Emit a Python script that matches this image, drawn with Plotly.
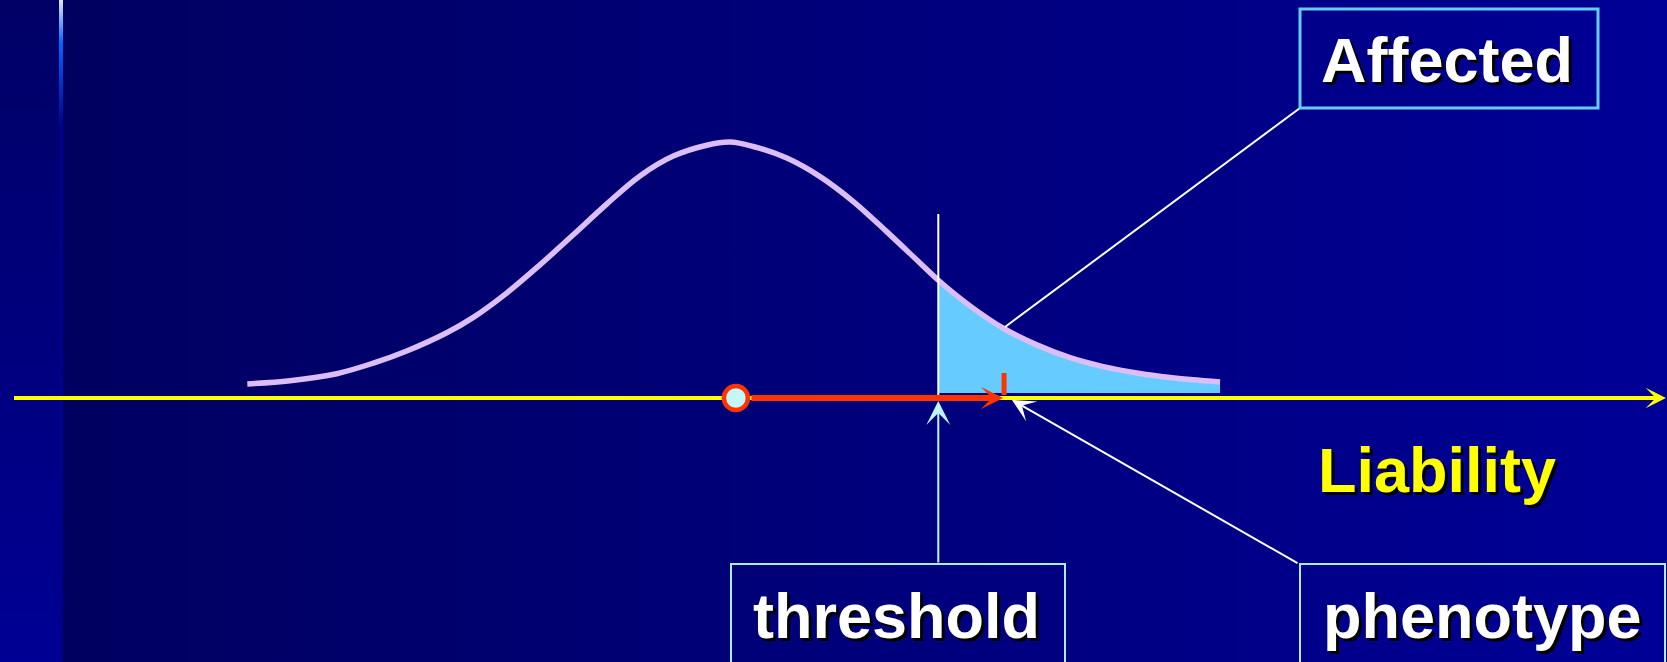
import base64
import plotly.graph_objects as go

W, H = 1667, 662

# liability (SD units) and density
liability = [-2.949, -2.689, -2.404, -2.181, -1.977, -1.733, -1.571, -1.368,
             -1.165, -0.962, -0.758, -0.555, -0.352, -0.148, -0.006, 0.136,
             0.340, 0.543, 0.746, 0.949, 1.152, 1.264, 1.457, 1.660, 1.864,
             2.067, 2.270, 2.474, 2.677, 2.982]
density = [0.022, 0.027, 0.038, 0.0545, 0.0735, 0.102, 0.126, 0.164,
           0.208, 0.255, 0.303, 0.347, 0.378, 0.395, 0.400, 0.393,
           0.375, 0.346, 0.307, 0.260, 0.211, 0.184, 0.144, 0.109, 0.083,
           0.063, 0.049, 0.039, 0.032, 0.025]

mean_liability = 0.03
threshold = 1.264
phenotype = 1.665
labels = ["Affected", "threshold", "phenotype", "Liability"]

# axis ranges so that the canvas maps onto liability / density units
X0, X1 = -4.457, 5.707
Y0, Y1 = -0.4125, 0.6219


def px(x):
    return x / W


def py(y):
    return 1 - y / H


def dx(x):
    return X0 + (X1 - X0) * x / W


def dy(y):
    return Y1 - (Y1 - Y0) * y / H


bg_svg = f"""<svg xmlns='http://www.w3.org/2000/svg' width='{W}' height='{H}' viewBox='0 0 {W} {H}' preserveAspectRatio='none'>
<defs>
<linearGradient id='m' x1='0' x2='1' y1='0' y2='0'>
<stop offset='0' stop-color='#00005E'/><stop offset='1' stop-color='#000096'/></linearGradient>
<linearGradient id='s' x1='0' x2='0' y1='0' y2='1'>
<stop offset='0' stop-color='#000066'/><stop offset='1' stop-color='#000094'/></linearGradient>
<linearGradient id='b' x1='0' x2='0' y1='0' y2='1'>
<stop offset='0' stop-color='#E6E6E6'/><stop offset='0.065' stop-color='#0066FF'/>
<stop offset='0.19' stop-color='#00008C'/><stop offset='1' stop-color='#00008C'/></linearGradient>
</defs>
<rect x='0' y='0' width='{W}' height='{H}' fill='url(#m)'/>
<rect x='0' y='0' width='59' height='{H}' fill='url(#s)'/>
<rect x='59' y='0' width='4' height='{H}' fill='url(#b)'/>
</svg>"""
bg_src = "data:image/svg+xml;base64," + base64.b64encode(bg_svg.encode()).decode()

fig = go.Figure()

# shaded "affected" tail beyond the threshold
tail_x = [x for x in liability if x >= threshold]
tail_y = [d for x, d in zip(liability, density) if x >= threshold]
base = 0.008
fig.add_trace(go.Scatter(
    x=tail_x + [tail_x[-1], tail_x[0], tail_x[0]],
    y=tail_y + [base, base, tail_y[0]],
    fill="toself", fillcolor="#66CCFF", mode="lines",
    line=dict(width=0, color="#66CCFF"), hoverinfo="skip"))

# liability distribution
fig.add_trace(go.Scatter(
    x=liability, y=density, mode="lines",
    line=dict(color="#DDBDF5", width=5.5, shape="spline", smoothing=1),
    hoverinfo="skip"))

# liability axis line
fig.add_trace(go.Scatter(
    x=[dx(14), dx(1650)], y=[0, 0], mode="lines",
    line=dict(color="#FFFF00", width=4), hoverinfo="skip"))

# threshold line above the axis
fig.add_trace(go.Scatter(
    x=[threshold, threshold], y=[dy(214), 0], mode="lines",
    line=dict(color="white", width=2), hoverinfo="skip"))

# phenotype tick
fig.add_trace(go.Scatter(
    x=[phenotype, phenotype], y=[dy(373), dy(395)], mode="lines",
    line=dict(color="#FF3300", width=5), hoverinfo="skip"))

annotations = [
    # axis arrowhead
    dict(x=dx(1666), y=0, ax=dx(1600), ay=0, xref="x", yref="y",
         axref="x", ayref="y", text="", showarrow=True, arrowhead=3,
         arrowsize=0.85, arrowwidth=4, arrowcolor="#FFFF00", standoff=0),
    # mean -> phenotype arrow
    dict(x=phenotype - 0.006, y=0, ax=mean_liability, ay=0, xref="x", yref="y",
         axref="x", ayref="y", text="", showarrow=True, arrowhead=3,
         arrowsize=0.62, arrowwidth=6, arrowcolor="#FF3300",
         startstandoff=14, standoff=0),
    # threshold pointer from box
    dict(x=threshold, y=dy(401), ax=threshold, ay=dy(564), xref="x", yref="y",
         axref="x", ayref="y", text="", showarrow=True, arrowhead=3,
         arrowsize=2, arrowwidth=2, arrowcolor="#BFF4FF", standoff=0),
    # phenotype pointer from box
    dict(x=dx(1012), y=dy(400), ax=dx(1299), ay=dy(564), xref="x", yref="y",
         axref="x", ayref="y", text="", showarrow=True, arrowhead=3,
         arrowsize=1.9, arrowwidth=2, arrowcolor="white", standoff=0),
]

label_font = dict(family="Liberation Sans, Arial, sans-serif", size=63,
                  color="white", weight="bold", shadow="3px 3px 0px #000000")
label_pos = [(1447, 60), (897, 616), (1482, 616), (1437, 470)]
for text, (lx, ly) in zip(labels, label_pos):
    font = dict(label_font)
    if text == "Liability":
        font["color"] = "#FFFF00"
    annotations.append(dict(x=px(lx), y=py(ly), xref="paper", yref="paper",
                            text=text, showarrow=False, font=font,
                            xanchor="center", yanchor="middle"))

shapes = [
    dict(type="line", xref="x", yref="y", x0=dx(1005), y0=dy(327),
         x1=dx(1300), y1=dy(108), line=dict(color="white", width=2)),
    dict(type="rect", xref="paper", yref="paper", x0=px(1300), x1=px(1598),
         y0=py(108), y1=py(9), line=dict(color="#66CCFF", width=3)),
    dict(type="rect", xref="paper", yref="paper", x0=px(731), x1=px(1065),
         y0=py(690), y1=py(564), line=dict(color="#A8EEF0", width=2)),
    dict(type="rect", xref="paper", yref="paper", x0=px(1300), x1=px(1665),
         y0=py(690), y1=py(564), line=dict(color="#A8EEF0", width=2)),
]

fig.update_layout(
    width=W, height=H,
    margin=dict(l=0, r=0, t=0, b=0),
    paper_bgcolor="#000070", plot_bgcolor="rgba(0,0,0,0)",
    showlegend=False,
    xaxis=dict(range=[X0, X1], visible=False, fixedrange=True),
    yaxis=dict(range=[Y0, Y1], visible=False, fixedrange=True),
    images=[dict(source=bg_src, xref="paper", yref="paper", x=0, y=1,
                 sizex=1, sizey=1, xanchor="left", yanchor="top",
                 sizing="stretch", layer="below")],
    shapes=shapes,
    annotations=annotations,
)

# mean of the distribution (drawn last so it sits on the axis line)
fig.add_trace(go.Scatter(
    x=[mean_liability], y=[0], mode="markers",
    marker=dict(size=24, color="#C4F8F8", line=dict(color="#FF3300", width=4.5)),
    hoverinfo="skip"))

fig.write_html("out.html", config={"displayModeBar": False},
               post_script="document.body.style.margin='0';"
                           "document.body.style.overflow='hidden';")
